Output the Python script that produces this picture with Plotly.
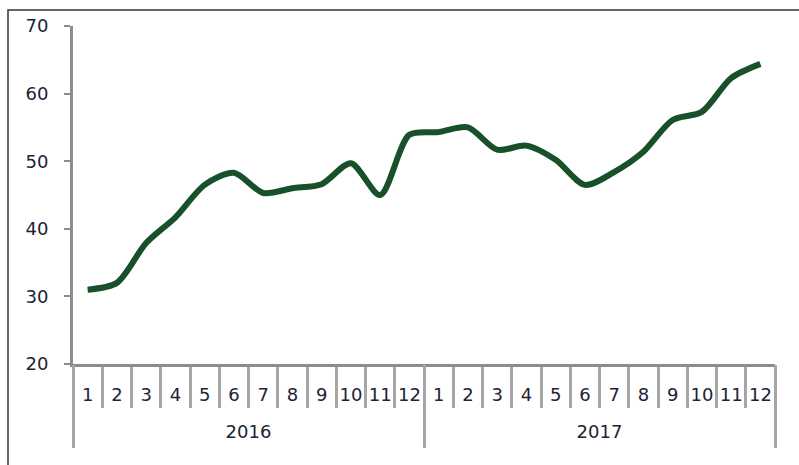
import plotly.graph_objects as go

years = ["2016", "2017"]
months = [str(m) for m in range(1, 13)] * 2
values = [31.0, 32.0, 37.9, 41.7, 46.5, 48.3, 45.3, 46.0, 46.6, 49.7, 45.0, 53.9,
          54.3, 55.0, 51.7, 52.3, 50.2, 46.5, 48.4, 51.4, 56.1, 57.3, 62.3, 64.4]

idx = list(range(len(values)))
n = len(values)
per_year = n // len(years)

W, H = 799, 465
ML, MR, MT, MB = 73, 24, 26, 10
plot_bottom_px = 364
paper_h = H - MT - MB
ydom0 = (H - MB - plot_bottom_px) / paper_h

fig = go.Figure()
fig.add_trace(go.Scatter(
    x=idx, y=values, mode="lines",
    line=dict(color="#17502a", width=6, shape="spline", smoothing=0.8),
    hoverinfo="skip", showlegend=False,
))
# invisible companion trace so the year axis is drawn
fig.add_trace(go.Scatter(
    x=idx, y=values, mode="lines", xaxis="x2", yaxis="y",
    line=dict(width=0), opacity=0, hoverinfo="skip", showlegend=False,
))

font = dict(family="DejaVu Sans", size=18, color="#222233")
grey = "#a6a6a6"
fig.update_layout(
    width=W, height=H,
    margin=dict(l=ML, r=MR, t=MT, b=MB),
    paper_bgcolor="white", plot_bgcolor="white",
    font=font,
    xaxis=dict(
        range=[-0.5, n - 0.5], showgrid=False, zeroline=False, automargin=False,
        showline=True, linecolor="#8c8c8c", linewidth=3,
        tickmode="array", tickvals=idx, ticktext=months, ticks="",
        minor=dict(tickmode="array", tickvals=[i - 0.5 for i in range(n + 1)],
                   ticks="outside", ticklen=41, tickwidth=3, tickcolor=grey, showgrid=False),
        ticklabelstandoff=12,
        tickfont=font,
    ),
    xaxis2=dict(
        overlaying="x", anchor="free", position=ydom0, side="bottom",
        range=[-0.5, n - 0.5], showgrid=False, zeroline=False, automargin=False,
        showline=False,
        tickmode="array",
        tickvals=[k * per_year + (per_year - 1) / 2 for k in range(len(years))],
        ticktext=years, ticks="",
        minor=dict(tickmode="array",
                   tickvals=[k * per_year - 0.5 for k in range(len(years) + 1)],
                   ticks="outside", ticklen=83, tickwidth=3, tickcolor=grey, showgrid=False),
        ticklabelstandoff=55,
        tickfont=font,
    ),
    yaxis=dict(
        domain=[ydom0, 1],
        range=[20, 70], dtick=10, showgrid=False, zeroline=False, automargin=False,
        showline=True, linecolor="#8c8c8c", linewidth=3,
        ticks="outside", ticklen=6, tickwidth=2, tickcolor="#8c8c8c",
        ticklabelstandoff=12,
        tickfont=font,
    ),
    shapes=[dict(type="rect", xref="paper", yref="paper",
                 x0=(8 - ML) / (W - ML - MR), x1=(810 - ML) / (W - ML - MR),
                 y0=-0.1, y1=(H - MB - 10) / paper_h,
                 line=dict(color="#333333", width=1.5), layer="below")],
)

fig.write_html("out.html", post_script="document.body.style.margin='0';",
               config={"displayModeBar": False})
